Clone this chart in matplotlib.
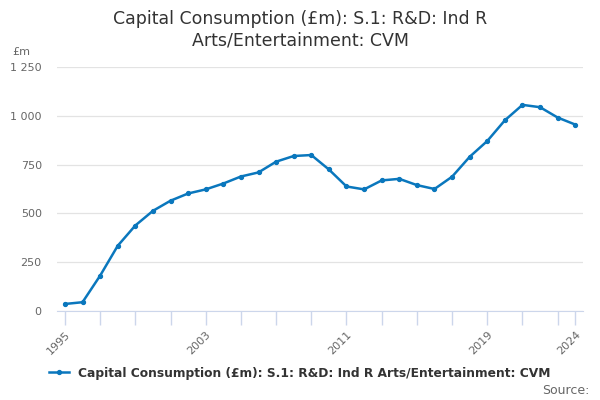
import matplotlib.pyplot as plt
import numpy as np

years = list(range(1995, 2025))
values = [36, 45, 181, 334, 438, 513, 565, 602, 623, 653,
          689, 710, 765, 794, 799, 725, 638, 623, 669, 677,
          645, 625, 688, 790, 871, 977, 1056, 1044, 991, 955]
yticks = [0, 250, 500, 750, 1000, 1250]
ytick_labels = ["0", "250", "500", "750", "1 000", "1 250"]
label_years = [1995, 2003, 2011, 2019, 2024]
series_name = "Capital Consumption (£m): S.1: R&D: Ind R Arts/Entertainment: CVM"

blue = "#0a77bd"

fig = plt.figure(figsize=(6, 4), dpi=100)
ax = fig.add_axes([0.095, 0.2225, 0.877, 0.61])

ax.plot(years, values, color=blue, lw=1.8, marker="o", ms=2.8)

ax.set_xlim(1994.55, 2024.45)
ax.set_ylim(0, 1250)
ax.set_yticks(yticks)
ax.set_yticklabels(ytick_labels)
ax.grid(axis="y", color="#e3e3e3", lw=0.9)
ax.set_axisbelow(True)

tick_pos = list(range(1995, 2024, 2)) + [2024]
ax.set_xticks(tick_pos)
ax.set_xticklabels([str(t) if t in label_years else "" for t in tick_pos],
                   rotation=45, ha="right", rotation_mode="anchor")

for s in ["top", "right", "left"]:
    ax.spines[s].set_visible(False)
ax.spines["bottom"].set_color("#ccd6eb")
ax.tick_params(axis="x", colors="#ccd6eb", length=10, width=1,
               labelcolor="#666666", labelsize=8, pad=3)
ax.tick_params(axis="y", length=0, labelcolor="#666666", labelsize=8, pad=11)

fig.text(0.5, 0.925, "Capital Consumption (£m): S.1: R&D: Ind R\nArts/Entertainment: CVM",
         ha="center", va="center", fontsize=12.5, color="#333333", linespacing=1.25)
fig.text(0.02, 0.87, "£m", fontsize=8, color="#666666", va="center")

fig.legend(handles=ax.get_lines(), labels=[series_name], loc="center",
           bbox_to_anchor=(0.5, 0.067), frameon=False,
           handlelength=1.6, prop={"weight": "bold", "size": 8.8})
for t in fig.legends[0].get_texts():
    t.set_color("#333333")
fig.text(0.983, 0.025, "Source:", ha="right", va="center", fontsize=9, color="#666666")

plt.savefig("out.png", dpi=100)
